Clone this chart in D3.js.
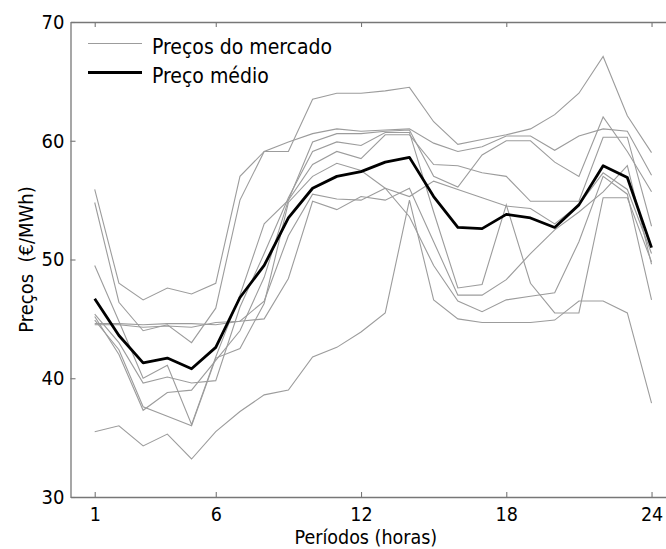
<!DOCTYPE html>
<html>
<head>
<meta charset="utf-8">
<script src="https://cdn.jsdelivr.net/npm/d3@7"></script>
<style>
  html, body { margin: 0; padding: 0; background: #fff; }
  svg { display: block; font-family: "DejaVu Sans Condensed", "DejaVu Sans", sans-serif; font-stretch: condensed; }
</style>
</head>
<body>
<svg id="chart" width="666" height="549"></svg>
<script>
// Hourly periods
const hours = d3.range(1, 25);

// Market price curves (€/MWh), one per day
const marketA = [55.9, 48.0, 46.6, 47.6, 47.1, 48.0, 57.0, 59.1, 59.1, 63.5, 64.0, 64.0, 64.2, 64.5, 61.6, 59.7, 60.1, 60.5, 61.0, 62.2, 64.0, 67.1, 62.1, 59.0];
const marketB = [54.8, 46.4, 44.0, 44.5, 43.0, 45.9, 55.0, 59.1, 59.9, 60.6, 61.0, 60.8, 60.9, 61.0, 59.8, 59.1, 59.5, 60.4, 60.4, 59.2, 60.4, 61.0, 60.8, 57.1];
const marketC = [49.5, 44.8, 40.0, 41.1, 36.1, 41.8, 47.0, 53.0, 55.0, 59.9, 60.6, 60.6, 60.8, 60.9, 57.0, 56.1, 58.8, 60.0, 60.0, 58.2, 57.0, 62.0, 59.1, 55.7];
const marketD = [45.4, 43.0, 39.6, 40.1, 39.6, 39.8, 46.0, 50.5, 55.2, 59.1, 59.9, 59.6, 60.7, 60.7, 54.0, 47.6, 47.9, 54.6, 48.0, 45.5, 45.5, 55.2, 55.2, 49.8];
const marketE = [45.2, 42.0, 37.3, 38.8, 39.0, 41.5, 44.0, 48.5, 55.0, 58.0, 59.1, 58.5, 60.5, 60.5, 58.0, 57.9, 57.3, 57.0, 54.9, 54.9, 54.9, 60.3, 60.3, 52.8];
const marketF = [44.9, 42.4, 37.6, 36.8, 36.0, 41.7, 42.5, 46.3, 54.8, 57.0, 58.1, 57.5, 56.0, 55.3, 56.6, 55.9, 55.2, 54.5, 54.3, 53.0, 54.6, 57.3, 55.9, 50.5];
const marketG = [44.6, 44.6, 44.5, 44.6, 44.6, 44.5, 44.8, 45.0, 48.4, 54.9, 54.2, 55.3, 55.0, 56.0, 51.5, 47.0, 47.0, 48.3, 50.5, 52.5, 54.0, 55.7, 57.9, 49.6];
const marketH = [44.5, 44.5, 44.3, 44.4, 44.3, 44.7, 44.8, 46.5, 52.0, 55.5, 55.1, 55.0, 56.0, 53.6, 49.5, 46.5, 45.6, 46.6, 46.9, 47.2, 51.5, 57.0, 55.5, 46.6];
const marketI = [35.5, 36.0, 34.3, 35.3, 33.2, 35.5, 37.2, 38.6, 39.0, 41.8, 42.6, 43.9, 45.5, 55.0, 46.6, 45.0, 44.7, 44.7, 44.7, 44.9, 46.5, 46.5, 45.5, 37.9];

// Average price
const meanPrice = [46.7, 43.6, 41.3, 41.7, 40.8, 42.6, 46.8, 49.5, 53.5, 56.0, 57.0, 57.4, 58.2, 58.6, 55.3, 52.7, 52.6, 53.8, 53.5, 52.7, 54.6, 57.9, 56.9, 51.0];

const marketSeries = [marketA, marketB, marketC, marketD, marketE, marketF, marketG, marketH, marketI];

// Axis ticks and labels
const xTicks = [1, 6, 12, 18, 24];
const yTicks = [30, 40, 50, 60, 70];
const legendLabels = ["Preços do mercado", "Preço médio"];
const xTitle = "Períodos (horas)";
const yTitle = "Preços  (€/MWh)";

const svg = d3.select("#chart");
const W = 666, H = 549;
const m = { left: 70.5, right: 675.75, top: 22, bottom: 497 };

const x = d3.scaleLinear().domain([0, 25]).range([m.left, m.right]);
const y = d3.scaleLinear().domain([30, 70]).range([m.bottom, m.top]);

svg.append("rect").attr("width", W).attr("height", H).attr("fill", "#fff");

const fontStack = "'DejaVu Sans Condensed', 'DejaVu Sans', sans-serif";
const axisColor = "#777";
function styleAxis(g, showText, size) {
  g.select(".domain").attr("stroke", axisColor).attr("stroke-width", 1.3);
  g.selectAll(".tick line").attr("stroke", axisColor).attr("stroke-width", 1.1);
  g.selectAll(".tick text")
    .attr("fill", "#000")
    .style("font-size", (size || 20) + "px")
    .style("font-family", fontStack)
    .style("display", showText ? null : "none");
}

// Bottom axis
svg.append("g")
  .attr("transform", `translate(0,${m.bottom})`)
  .call(d3.axisBottom(x).tickValues(xTicks).tickFormat(d3.format("d"))
    .tickSizeInner(-5).tickSizeOuter(0).tickPadding(10))
  .call(g => styleAxis(g, true, 19.5));

// Top axis (box edge)
svg.append("g")
  .attr("transform", `translate(0,${m.top})`)
  .call(d3.axisTop(x).tickValues(xTicks).tickSizeInner(-5).tickSizeOuter(0))
  .call(g => styleAxis(g, false));

// Left axis
svg.append("g")
  .attr("transform", `translate(${m.left},0)`)
  .call(d3.axisLeft(y).tickValues(yTicks).tickFormat(d3.format("d"))
    .tickSizeInner(-5).tickSizeOuter(0).tickPadding(6))
  .call(g => styleAxis(g, true, 20));

// Right axis (box edge)
svg.append("g")
  .attr("transform", `translate(${m.right},0)`)
  .call(d3.axisRight(y).tickValues(yTicks).tickSizeInner(-5).tickSizeOuter(0))
  .call(g => styleAxis(g, false));

// Lines
const line = d3.line().x((d, i) => x(hours[i])).y(d => y(d));

const plot = svg.append("g");
plot.selectAll("path.market")
  .data(marketSeries)
  .join("path")
  .attr("class", "market")
  .attr("d", line)
  .attr("fill", "none")
  .attr("stroke", "#9c9c9c")
  .attr("stroke-width", 1.1);

plot.append("path")
  .datum(meanPrice)
  .attr("d", line)
  .attr("fill", "none")
  .attr("stroke", "#000")
  .attr("stroke-width", 2.8)
  .attr("stroke-linejoin", "round");

// Axis titles
svg.append("text")
  .attr("x", x(12.2))
  .attr("y", 544)
  .attr("text-anchor", "middle")
  .style("font-size", "19.5px")
  .style("font-family", fontStack)
  .text(xTitle);

svg.append("text")
  .attr("transform", `translate(33,${(m.top + m.bottom) / 2}) rotate(-90)`)
  .attr("text-anchor", "middle")
  .style("font-size", "20px")
  .style("font-family", fontStack)
  .style("white-space", "pre")
  .text(yTitle);

// Legend
const legend = svg.append("g");
const legendStyles = [
  { stroke: "#9c9c9c", width: 1.1 },
  { stroke: "#000", width: 3 }
];
legendLabels.forEach((label, i) => {
  const ly = 43.5 + i * 29;
  legend.append("line")
    .attr("x1", 88).attr("x2", 142)
    .attr("y1", ly).attr("y2", ly)
    .attr("stroke", legendStyles[i].stroke)
    .attr("stroke-width", legendStyles[i].width);
  legend.append("text")
    .attr("x", 152)
    .attr("y", ly + 10)
    .style("font-size", "21px")
    .style("font-family", fontStack)
    .text(label);
});
</script>
</body>
</html>
